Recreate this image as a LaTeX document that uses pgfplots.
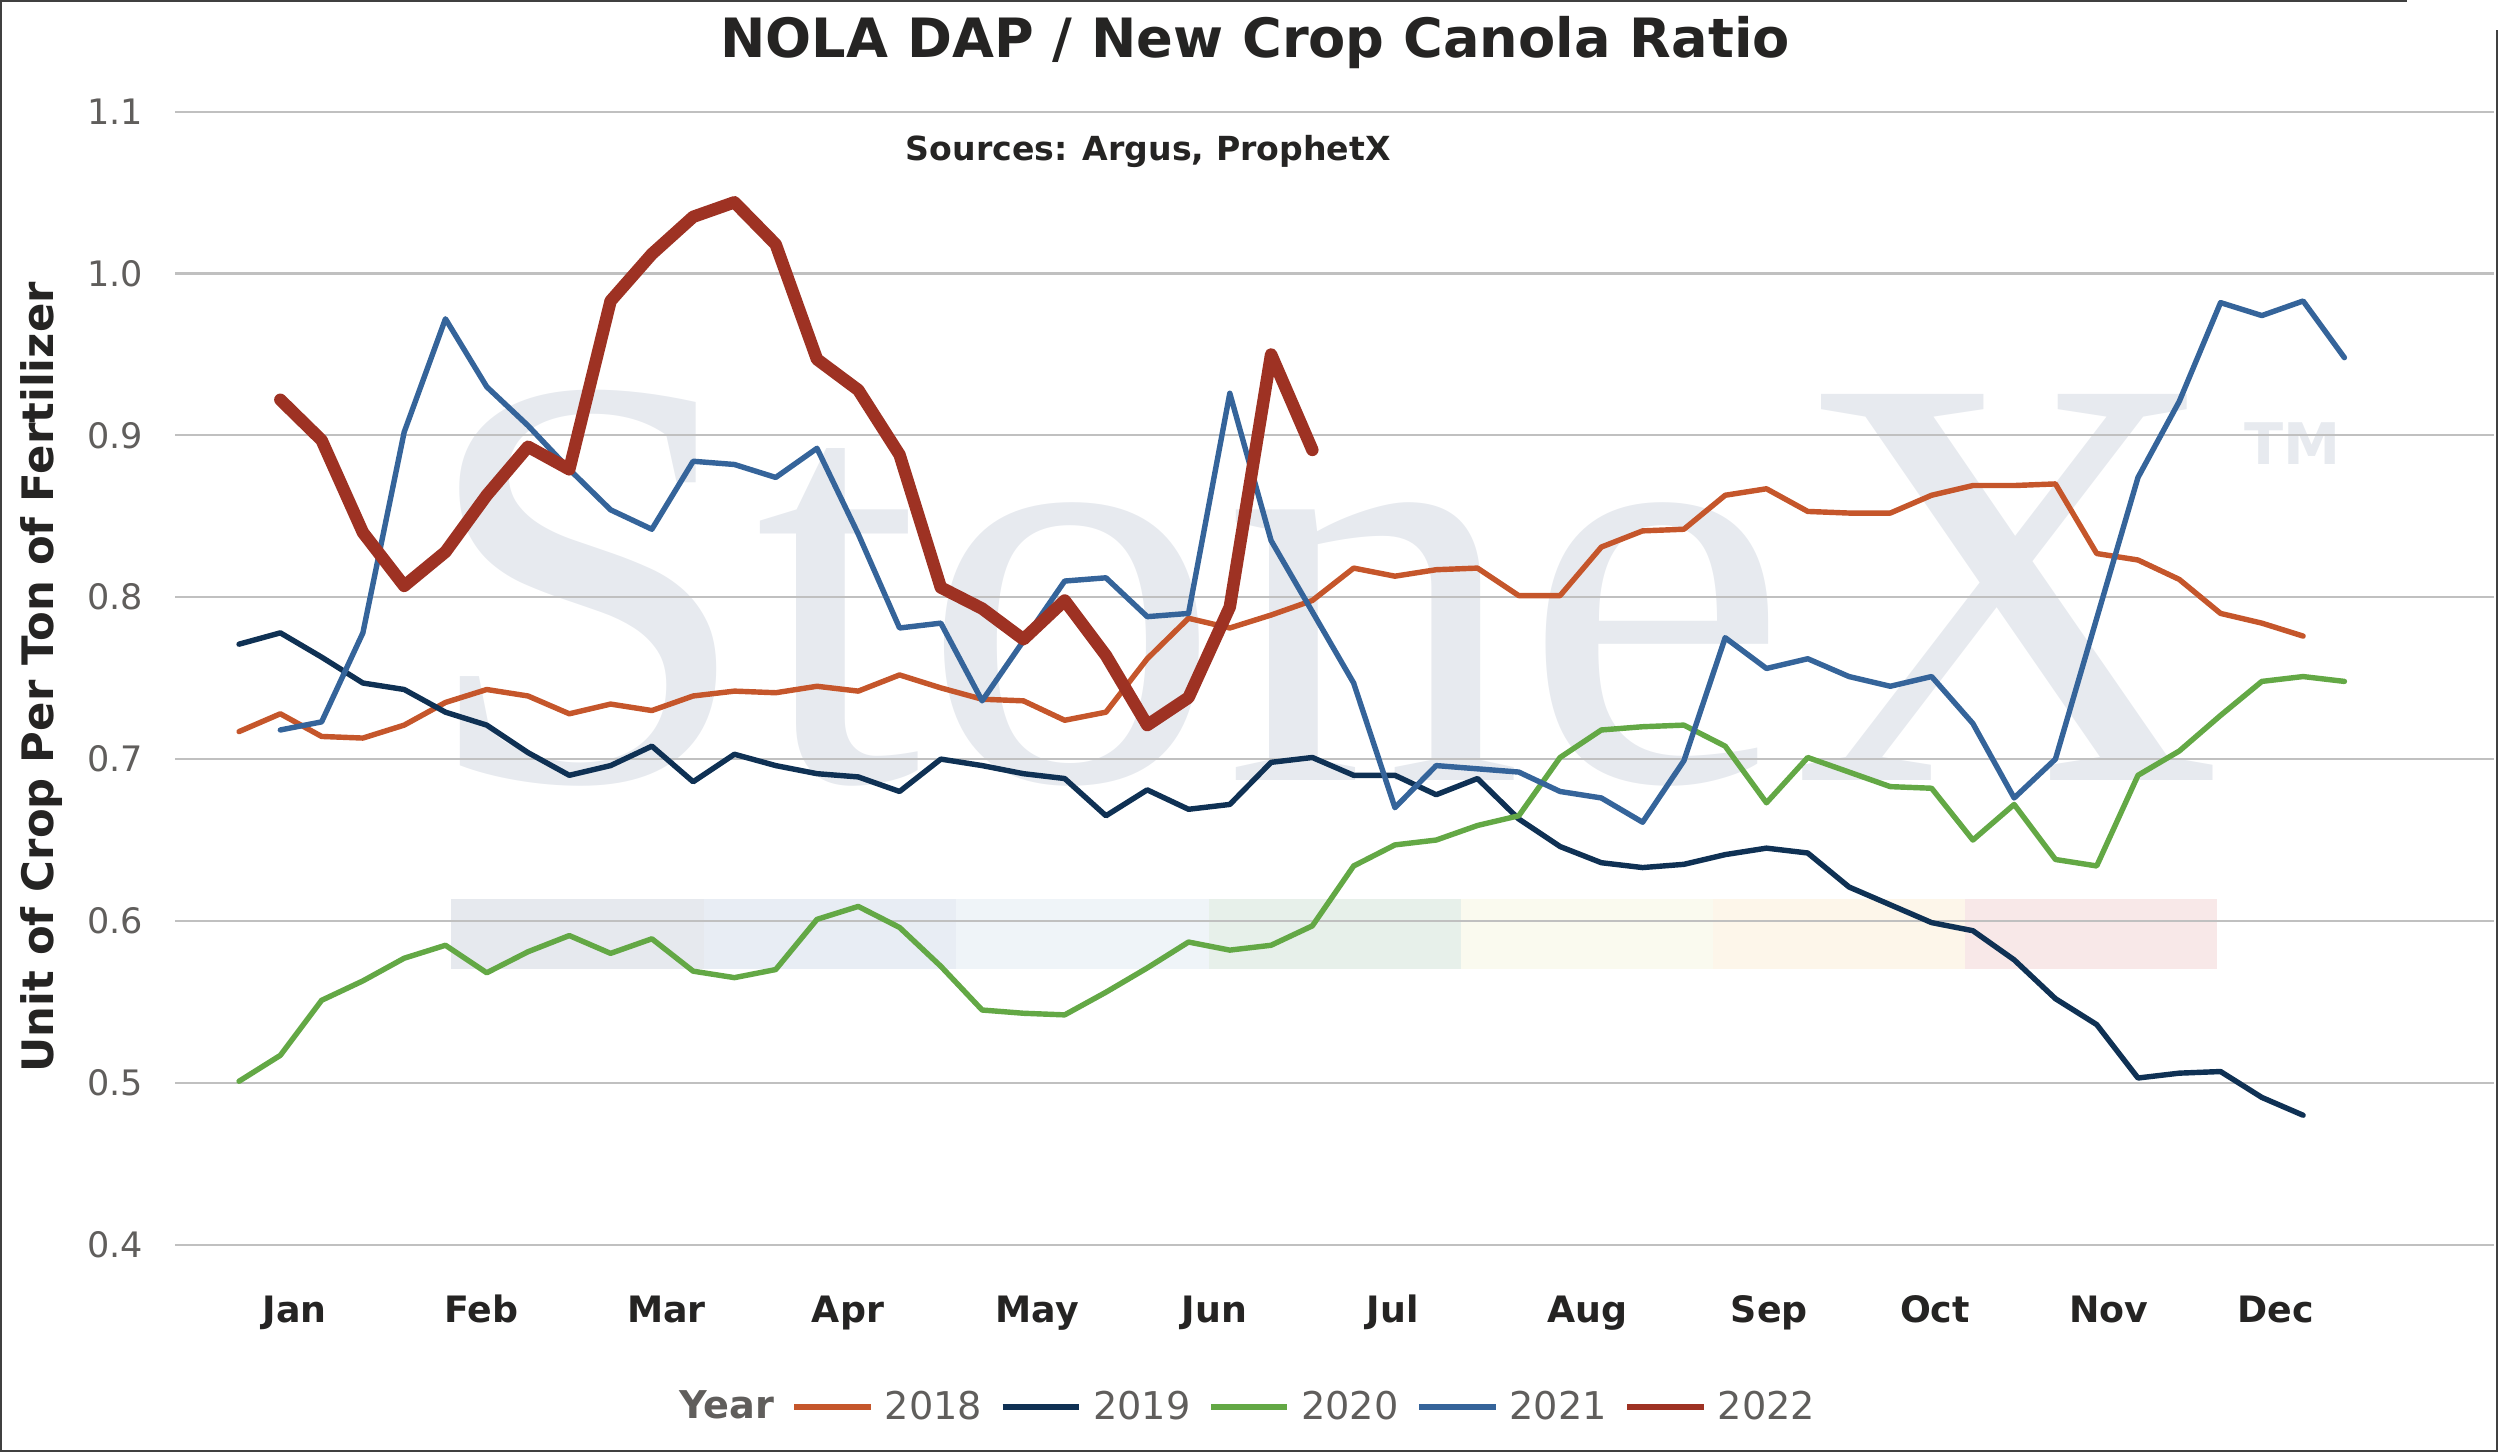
\documentclass[border=0pt]{standalone}
\usepackage{fontspec}
\setmainfont{DejaVu Sans}
\newfontfamily\wmfont{Liberation Serif}
\usepackage{graphicx}
\usepackage{pgfplots}
\usepackage{pgfplotstable}
\pgfplotsset{compat=1.18}
\definecolor{c18}{HTML}{C5562B}
\definecolor{c19}{HTML}{0F3154}
\definecolor{c20}{HTML}{63A845}
\definecolor{c21}{HTML}{35649A}
\definecolor{c22}{HTML}{9E3223}
\definecolor{txt}{HTML}{252423}
\definecolor{tickc}{HTML}{605E5C}
\definecolor{gridc}{HTML}{C0C0C0}
\definecolor{wm}{HTML}{E7EAEF}
\definecolor{b1}{HTML}{E6E9EE}
\definecolor{b2}{HTML}{E8EDF4}
\definecolor{b3}{HTML}{EFF4F8}
\definecolor{b4}{HTML}{E7F0EA}
\definecolor{b5}{HTML}{FAFAEF}
\definecolor{b6}{HTML}{FDF6EA}
\definecolor{b7}{HTML}{F8E8E8}

\pgfplotstableread{
w v
0 0.717
1 0.728
2 0.714
3 0.713
4 0.721
5 0.735
6 0.743
7 0.739
8 0.728
9 0.734
10 0.730
11 0.739
12 0.742
13 0.741
14 0.745
15 0.742
16 0.752
17 0.744
18 0.737
19 0.736
20 0.724
21 0.729
22 0.762
23 0.787
24 0.781
25 0.789
26 0.798
27 0.818
28 0.813
29 0.817
30 0.818
31 0.801
32 0.801
33 0.831
34 0.841
35 0.842
36 0.863
37 0.867
38 0.853
39 0.852
40 0.852
41 0.863
42 0.869
43 0.869
44 0.870
45 0.827
46 0.823
47 0.811
48 0.790
49 0.784
50 0.776
}\dA

\pgfplotstableread{
w v
0 0.771
1 0.778
2 0.763
3 0.747
4 0.743
5 0.729
6 0.721
7 0.704
8 0.690
9 0.696
10 0.708
11 0.686
12 0.703
13 0.696
14 0.691
15 0.689
16 0.680
17 0.700
18 0.696
19 0.691
20 0.688
21 0.665
22 0.681
23 0.669
24 0.672
25 0.698
26 0.701
27 0.690
28 0.690
29 0.678
30 0.688
31 0.663
32 0.646
33 0.636
34 0.633
35 0.635
36 0.641
37 0.645
38 0.642
39 0.621
40 0.610
41 0.599
42 0.594
43 0.576
44 0.552
45 0.536
46 0.503
47 0.506
48 0.507
49 0.491
50 0.480
}\dB

\pgfplotstableread{
w v
0 0.501
1 0.517
2 0.551
3 0.563
4 0.577
5 0.585
6 0.568
7 0.581
8 0.591
9 0.580
10 0.589
11 0.569
12 0.565
13 0.570
14 0.601
15 0.609
16 0.596
17 0.572
18 0.545
19 0.543
20 0.542
21 0.556
22 0.571
23 0.587
24 0.582
25 0.585
26 0.597
27 0.634
28 0.647
29 0.650
30 0.659
31 0.665
32 0.701
33 0.718
34 0.720
35 0.721
36 0.708
37 0.673
38 0.701
39 0.692
40 0.683
41 0.682
42 0.650
43 0.672
44 0.638
45 0.634
46 0.690
47 0.705
48 0.727
49 0.748
50 0.751
51 0.748
}\dC

\pgfplotstableread{
w v
1 0.718
2 0.723
3 0.778
4 0.902
5 0.972
6 0.930
7 0.906
8 0.879
9 0.854
10 0.842
11 0.884
12 0.882
13 0.874
14 0.892
15 0.839
16 0.781
17 0.784
18 0.736
19 0.773
20 0.810
21 0.812
22 0.788
23 0.790
24 0.926
25 0.835
26 0.791
27 0.747
28 0.670
29 0.696
30 0.694
31 0.692
32 0.680
33 0.676
34 0.661
35 0.699
36 0.775
37 0.756
38 0.762
39 0.751
40 0.745
41 0.751
42 0.722
43 0.676
44 0.700
45 0.787
46 0.874
47 0.921
48 0.982
49 0.974
50 0.983
51 0.948
}\dD

\pgfplotstableread{
w v
1 0.922
2 0.897
3 0.840
4 0.807
5 0.828
6 0.863
7 0.893
8 0.879
9 0.983
10 1.012
11 1.035
12 1.044
13 1.018
14 0.947
15 0.928
16 0.888
17 0.806
18 0.793
19 0.774
20 0.798
21 0.764
22 0.721
23 0.738
24 0.794
25 0.950
26 0.891
}\dE

\begin{document}
\begin{tikzpicture}
\begin{axis}[
  set layers,
  at={(55pt,-390.5pt)}, anchor=south west,
  scale only axis, width=727.5pt, height=355.5pt,
  xmin=-1.544, xmax=54.63, ymin=0.4, ymax=1.1,
  axis line style={draw=none},
  major tick style={draw=none},
  minor tick style={draw=none},
  ytick={0.4,0.5,0.6,0.7,0.8,0.9,1.0,1.1},
  yticklabels={0.4,0.5,0.6,0.7,0.8,0.9,1.0,1.1},
  ymajorgrids,
  major grid style={draw=gridc, line width=0.65pt},
  yticklabel style={font=\fontsize{11}{11}\selectfont, text=tickc, anchor=east, inner sep=0pt, xshift=-10pt},
  xtick={1.35,5.87,10.35,14.75,19.34,23.63,27.95,32.66,37.07,41.08,45.29,49.34},
  xticklabels={Jan,Feb,Mar,Apr,May,Jun,Jul,Aug,Sep,Oct,Nov,Dec},
  xticklabel style={font=\bfseries\fontsize{11.4}{11.4}\selectfont, text=txt, anchor=base, inner sep=0pt, yshift=-24.5pt},
  legend columns=-1,
  legend style={at={(0.4598,-0.1435)}, anchor=center, draw=none, fill=none,
    font=\fontsize{12}{12}\selectfont, text=tickc, inner sep=0pt,
    nodes={inner sep=0pt},
    /tikz/every odd column/.style={column sep=3.5pt},
    /tikz/every even column/.style={column sep=5.5pt}},
  legend cell align=left,
  legend image code/.code={\draw[#1, line width=1.8pt, line cap=butt] (0pt,0pt) -- (24pt,0pt);},
  every axis plot/.append style={line join=round, line cap=round, no markers},
]
\begin{pgfonlayer}{axis background}
  \node[anchor=base west, inner sep=0pt, text=wm, font=\wmfont\fontsize{185}{185}\selectfont] at (axis cs:4.36,0.6865) {\scalebox{1.02}[1]{StoneX}};
  \node[anchor=center, inner sep=0pt, text=wm, font=\bfseries\fontsize{18}{18}\selectfont] at (axis cs:49.75,0.8952) {TM};
  \fill[b1] (axis cs:5.131,0.5703) rectangle (axis cs:11.26,0.6136);
  \fill[b2] (axis cs:11.26,0.5703) rectangle (axis cs:17.36,0.6136);
  \fill[b3] (axis cs:17.36,0.5703) rectangle (axis cs:23.49,0.6136);
  \fill[b4] (axis cs:23.49,0.5703) rectangle (axis cs:29.60,0.6136);
  \fill[b5] (axis cs:29.60,0.5703) rectangle (axis cs:35.70,0.6136);
  \fill[b6] (axis cs:35.70,0.5703) rectangle (axis cs:41.80,0.6136);
  \fill[b7] (axis cs:41.80,0.5703) rectangle (axis cs:47.92,0.6136);
\end{pgfonlayer}
\addlegendimage{empty legend}
\addlegendentry{\textbf{Year}}
\addplot[c18, line width=1.7pt] table[x=w, y=v] {\dA};
\addlegendentry{2018}
\addplot[c19, line width=1.7pt] table[x=w, y=v] {\dB};
\addlegendentry{2019}
\addplot[c20, line width=1.7pt] table[x=w, y=v] {\dC};
\addlegendentry{2020}
\addplot[c21, line width=1.7pt] table[x=w, y=v] {\dD};
\addlegendentry{2021}
\addplot[c22, line width=3.9pt] table[x=w, y=v] {\dE};
\addlegendentry{2022}
\end{axis}
\node[anchor=base, inner sep=0pt, text=txt, font=\bfseries\fontsize{17}{17}\selectfont] at (393.75pt,-18pt) {NOLA DAP / New Crop Canola Ratio};
\node[anchor=base, inner sep=0pt, text=txt, font=\bfseries\fontsize{10.4}{10.4}\selectfont] at (360.25pt,-50.5pt) {Sources: Argus, ProphetX};
\node[anchor=base, rotate=90, inner sep=0pt, text=txt, font=\bfseries\fontsize{13.6}{13.6}\selectfont] at (16.75pt,-212.5pt) {Unit of Crop Per Ton of Fertilizer};
\draw[draw=black!75, line width=0.7pt] (755pt,-0.35pt) -- (0.35pt,-0.35pt) -- (0.35pt,-455.15pt) -- (783.3pt,-455.15pt) -- (783.3pt,-9.5pt);
\pgfresetboundingbox
\path[use as bounding box] (0pt,0pt) rectangle (784pt,-455.5pt);
\end{tikzpicture}
\end{document}
